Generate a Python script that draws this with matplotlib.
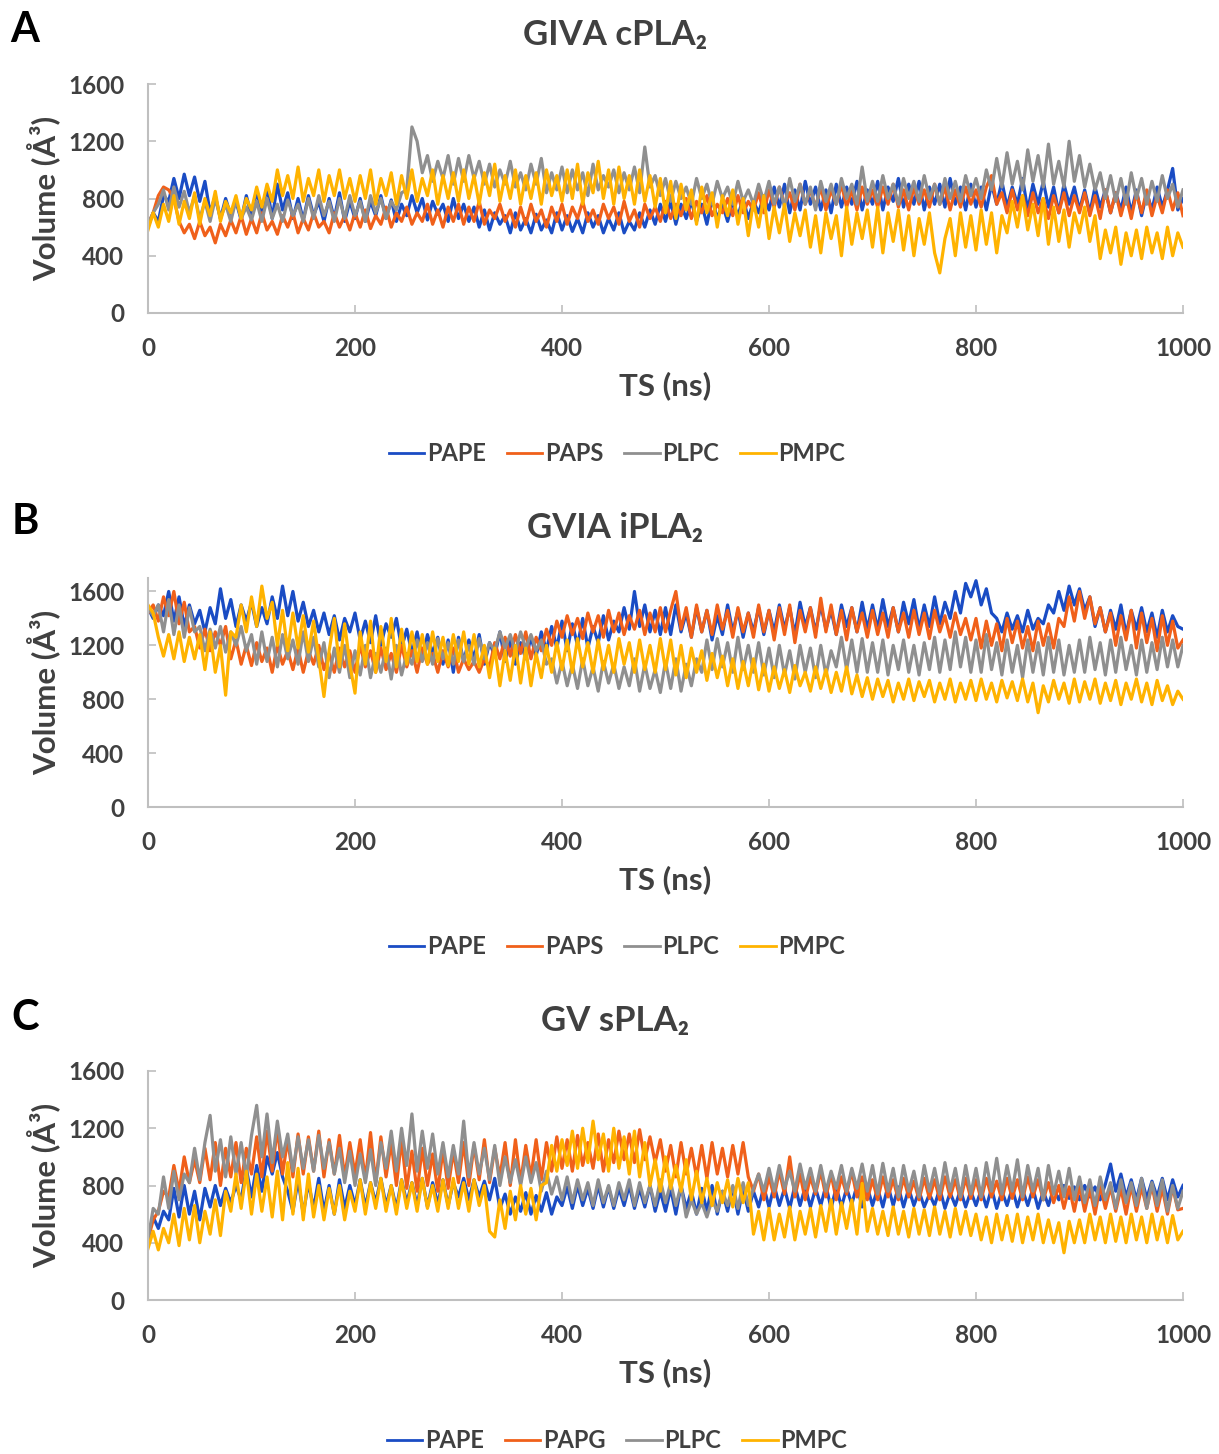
import numpy as np
import matplotlib
matplotlib.use("Agg")
import matplotlib.pyplot as plt

# Volume traces, one value every 5 ns (0..1000 ns)
a_pape = [600, 700, 640, 820, 780, 940, 800, 970, 820, 950, 780, 920, 700, 820, 660, 800, 680, 780, 650, 820,
          680, 850, 700, 880, 660, 900, 720, 840, 660, 800, 650, 820, 680, 780, 640, 800, 660, 840, 640, 780,
          660, 800, 640, 780, 680, 820, 660, 790, 640, 760, 680, 820, 700, 800, 650, 780, 690, 760, 640, 800,
          660, 760, 640, 740, 600, 720, 580, 700, 620, 680, 560, 700, 580, 660, 560, 690, 580, 650, 560, 700,
          580, 680, 570, 660, 560, 700, 600, 680, 560, 660, 580, 700, 560, 640, 580, 700, 600, 720, 620, 760,
          640, 780, 620, 760, 660, 780, 640, 760, 620, 800, 660, 760, 640, 780, 680, 800, 660, 780, 700, 820,
          720, 880, 740, 900, 700, 860, 720, 920, 760, 880, 720, 860, 700, 900, 740, 880, 760, 920, 720, 860,
          760, 920, 720, 880, 780, 940, 740, 900, 760, 920, 720, 880, 760, 900, 740, 940, 760, 880, 720, 900,
          740, 880, 720, 900, 760, 920, 740, 880, 760, 940, 720, 900, 760, 920, 740, 880, 700, 900, 760, 880,
          720, 860, 700, 880, 740, 860, 700, 840, 720, 880, 700, 860, 680, 840, 720, 880, 740, 860, 1010, 720,
          800]
a_paps = [620, 700, 820, 880, 860, 800, 640, 560, 620, 520, 640, 540, 600, 490, 620, 540, 650, 560, 680, 550,
          660, 560, 700, 580, 640, 550, 680, 600, 700, 560, 660, 580, 700, 600, 640, 560, 700, 600, 680, 580,
          700, 600, 720, 590, 680, 620, 740, 600, 700, 640, 740, 620, 700, 640, 760, 620, 720, 600, 740, 640,
          760, 620, 740, 640, 780, 620, 720, 660, 760, 640, 720, 600, 740, 620, 760, 640, 720, 600, 740, 640,
          760, 620, 740, 660, 780, 640, 720, 620, 760, 660, 740, 620, 780, 640, 720, 600, 760, 660, 740, 640,
          780, 660, 760, 680, 800, 660, 780, 700, 820, 680, 760, 700, 800, 680, 820, 700, 780, 720, 840, 700,
          860, 740, 880, 760, 840, 720, 900, 760, 860, 740, 880, 720, 860, 760, 900, 740, 860, 720, 880, 760,
          860, 740, 880, 760, 900, 740, 860, 720, 880, 760, 860, 740, 900, 760, 880, 720, 860, 740, 880, 760,
          860, 740, 880, 960, 760, 840, 700, 860, 720, 820, 680, 840, 700, 800, 660, 820, 700, 840, 680, 820,
          700, 840, 680, 820, 660, 860, 700, 840, 680, 820, 660, 840, 700, 860, 680, 820, 700, 860, 720, 840,
          680]
a_plpc = [620, 700, 760, 860, 720, 880, 740, 850, 700, 820, 660, 780, 640, 800, 660, 760, 640, 790, 660, 740,
          650, 780, 640, 800, 660, 760, 640, 790, 680, 760, 640, 800, 660, 820, 680, 780, 640, 800, 660, 820,
          680, 780, 640, 820, 700, 800, 660, 780, 720, 840, 860, 1300, 1200, 980, 1100, 920, 1060, 940, 1100, 900,
          1080, 920, 1100, 940, 1060, 900, 1040, 880, 1000, 900, 1060, 880, 980, 860, 1040, 900, 1080, 840, 980, 860,
          1020, 840, 1000, 860, 980, 820, 1040, 860, 960, 880, 1000, 840, 980, 860, 1020, 840, 1160, 880, 960, 820,
          940, 780, 920, 800, 880, 760, 940, 800, 900, 760, 920, 800, 880, 760, 920, 780, 860, 760, 900, 780,
          920, 760, 880, 740, 940, 780, 900, 760, 880, 720, 920, 780, 900, 760, 940, 800, 900, 760, 1020, 780,
          920, 780, 960, 800, 900, 760, 940, 800, 920, 780, 960, 800, 900, 760, 940, 800, 920, 780, 960, 820,
          940, 800, 1000, 860, 1080, 880, 1120, 900, 1060, 860, 1140, 920, 1100, 880, 1180, 900, 1060, 880, 1200, 920,
          1100, 880, 1040, 860, 980, 800, 960, 780, 940, 760, 980, 800, 940, 760, 920, 780, 960, 800, 900, 740,
          860]
a_pmpc = [580, 700, 600, 760, 640, 820, 620, 780, 660, 840, 620, 800, 680, 850, 640, 780, 700, 820, 660, 800,
          720, 880, 740, 900, 780, 1000, 820, 960, 800, 1020, 780, 940, 820, 1000, 780, 960, 820, 1000, 800, 940,
          780, 960, 800, 1000, 760, 940, 820, 980, 760, 960, 800, 1000, 780, 940, 820, 1000, 760, 960, 800, 980,
          780, 1000, 800, 960, 760, 980, 820, 1040, 780, 960, 800, 1000, 760, 960, 800, 980, 760, 1000, 820, 960,
          780, 1000, 800, 1040, 760, 980, 840, 1060, 800, 1000, 760, 1020, 800, 960, 760, 1000, 780, 960, 740, 940,
          700, 920, 660, 900, 720, 860, 620, 880, 700, 840, 600, 820, 680, 860, 620, 800, 540, 780, 600, 820,
          520, 740, 560, 760, 500, 700, 540, 720, 460, 680, 420, 700, 520, 680, 400, 740, 480, 700, 520, 720,
          460, 740, 420, 700, 500, 720, 440, 680, 400, 660, 480, 700, 420, 280, 520, 660, 400, 700, 460, 680,
          440, 720, 480, 700, 420, 680, 560, 780, 600, 820, 580, 760, 540, 800, 480, 740, 500, 720, 460, 700,
          560, 740, 500, 680, 380, 580, 420, 600, 340, 560, 400, 580, 380, 600, 420, 560, 380, 600, 400, 560,
          460]

b_pape = [1480, 1400, 1500, 1420, 1600, 1380, 1560, 1340, 1500, 1360, 1460, 1300, 1480, 1360, 1620, 1400, 1540, 1340, 1500, 1380,
          1520, 1340, 1480, 1360, 1560, 1400, 1640, 1420, 1600, 1380, 1520, 1340, 1460, 1300, 1440, 1280, 1420, 1240, 1400, 1300,
          1440, 1240, 1380, 1220, 1420, 1200, 1360, 1260, 1400, 1180, 1320, 1140, 1300, 1100, 1280, 1140, 1260, 1060, 1240, 1000,
          1260, 1080, 1240, 1100, 1280, 1060, 1220, 1120, 1300, 1080, 1240, 1060, 1220, 1100, 1260, 1120, 1300, 1160, 1340, 1180,
          1380, 1160, 1360, 1200, 1400, 1180, 1340, 1220, 1420, 1240, 1380, 1300, 1480, 1320, 1600, 1340, 1500, 1300, 1460, 1280,
          1480, 1280, 1500, 1300, 1440, 1260, 1480, 1300, 1460, 1240, 1420, 1280, 1500, 1300, 1460, 1260, 1440, 1300, 1480, 1280,
          1460, 1300, 1500, 1320, 1480, 1280, 1520, 1340, 1480, 1300, 1500, 1320, 1460, 1280, 1500, 1340, 1480, 1300, 1520, 1320,
          1500, 1320, 1540, 1340, 1480, 1300, 1520, 1360, 1540, 1320, 1500, 1340, 1560, 1360, 1520, 1400, 1600, 1440, 1660, 1560,
          1680, 1500, 1620, 1440, 1400, 1300, 1440, 1320, 1420, 1300, 1460, 1320, 1400, 1360, 1500, 1440, 1600, 1460, 1640, 1500,
          1620, 1460, 1560, 1340, 1480, 1300, 1460, 1320, 1500, 1280, 1460, 1320, 1480, 1300, 1440, 1260, 1460, 1300, 1420, 1340,
          1320]
b_paps = [1440, 1500, 1380, 1560, 1420, 1600, 1360, 1520, 1300, 1340, 1180, 1320, 1160, 1300, 1200, 1340, 1100, 1240, 1060, 1200,
          1050, 1220, 1080, 1180, 1000, 1200, 1060, 1160, 1020, 1180, 1000, 1160, 1060, 1200, 1020, 1140, 1000, 1180, 1040, 1160,
          1000, 1200, 1040, 1160, 1000, 1180, 1020, 1140, 1000, 1200, 1040, 1160, 1000, 1180, 1060, 1140, 1000, 1160, 1040, 1180,
          1000, 1100, 1020, 1080, 1000, 1100, 1040, 1220, 1100, 1260, 1120, 1280, 1140, 1300, 1100, 1260, 1160, 1320, 1200, 1380,
          1260, 1420, 1280, 1400, 1250, 1440, 1300, 1420, 1260, 1460, 1300, 1440, 1280, 1420, 1320, 1460, 1280, 1440, 1300, 1480,
          1300, 1460, 1600, 1320, 1480, 1260, 1500, 1300, 1460, 1280, 1500, 1320, 1460, 1260, 1480, 1300, 1440, 1260, 1500, 1300,
          1460, 1240, 1480, 1280, 1500, 1220, 1460, 1300, 1480, 1260, 1550, 1300, 1500, 1280, 1460, 1240, 1480, 1300, 1440, 1260,
          1460, 1280, 1440, 1260, 1480, 1300, 1440, 1260, 1460, 1280, 1440, 1250, 1460, 1300, 1420, 1260, 1440, 1280, 1400, 1240,
          1400, 1180, 1380, 1200, 1360, 1160, 1400, 1220, 1380, 1180, 1340, 1160, 1380, 1200, 1360, 1180, 1400, 1340, 1560, 1380,
          1600, 1400, 1560, 1360, 1480, 1300, 1440, 1200, 1420, 1240, 1460, 1180, 1440, 1220, 1400, 1160, 1420, 1200, 1380, 1180,
          1240]
b_plpc = [1480, 1420, 1500, 1300, 1540, 1280, 1500, 1260, 1480, 1300, 1340, 1160, 1320, 1180, 1340, 1150, 1300, 1200, 1340, 1160,
          1280, 1060, 1300, 1080, 1260, 1040, 1280, 1100, 1240, 1060, 1300, 1080, 1260, 1040, 1220, 960, 1180, 1000, 1200, 960,
          1160, 980, 1200, 960, 1140, 1000, 1180, 950, 1200, 980, 1140, 1060, 1240, 1080, 1220, 1060, 1250, 1100, 1220, 1060,
          1240, 1080, 1200, 1060, 1250, 1100, 1220, 1160, 1300, 1180, 1280, 1150, 1300, 1180, 1280, 1160, 1240, 1060, 1100, 920,
          1080, 900, 1060, 880, 1100, 900, 1040, 860, 1080, 920, 1060, 880, 1040, 900, 1100, 860, 1060, 880, 1020, 850,
          1080, 880, 1100, 860, 1060, 900, 1100, 1000, 1240, 1020, 1250, 1040, 1220, 1000, 1260, 1020, 1200, 1000, 1220, 980,
          1180, 960, 1200, 980, 1160, 950, 1200, 1000, 1180, 960, 1200, 980, 1160, 1040, 1260, 1020, 1240, 1000, 1250, 1000,
          1220, 1000, 1240, 980, 1200, 1020, 1240, 1000, 1200, 980, 1220, 1020, 1260, 1000, 1240, 1020, 1300, 1040, 1260, 1000,
          1240, 1000, 1280, 1020, 1220, 980, 1240, 1000, 1200, 960, 1240, 1000, 1220, 980, 1260, 1000, 1240, 980, 1200, 1000,
          1240, 1000, 1260, 1020, 1220, 980, 1240, 1000, 1260, 1020, 1200, 980, 1240, 1000, 1220, 1020, 1260, 1040, 1240, 1040,
          1200]
b_pmpc = [1500, 1440, 1260, 1120, 1280, 1100, 1300, 1080, 1260, 1100, 1280, 1020, 1300, 1000, 1200, 830, 1300, 1260, 1500, 1300,
          1560, 1340, 1640, 1400, 1520, 1200, 1460, 1160, 1440, 1180, 1420, 1150, 1380, 1100, 820, 1160, 1400, 1040, 1360, 1060,
          845, 1300, 1060, 1380, 1000, 1340, 1080, 1400, 1040, 1320, 1060, 1300, 1080, 1280, 1060, 1300, 1080, 1260, 1050, 1280,
          1080, 1300, 1060, 1280, 1040, 1200, 960, 1180, 900, 1160, 940, 1200, 920, 1180, 900, 1140, 960, 1200, 1000, 1220,
          1020, 1240, 1000, 1250, 1040, 1220, 1000, 1240, 1020, 1200, 1000, 1250, 1060, 1220, 1000, 1240, 1020, 1200, 1000, 1250,
          1020, 1240, 980, 1200, 960, 1180, 1000, 1160, 940, 1140, 960, 1120, 900, 1100, 880, 1080, 900, 1100, 870, 1060,
          860, 1040, 880, 1020, 850, 1050, 900, 1000, 860, 1040, 880, 1020, 850, 1000, 860, 1040, 840, 980, 820, 960,
          800, 950, 820, 940, 780, 920, 800, 950, 790, 930, 820, 940, 780, 920, 800, 950, 780, 920, 800, 940,
          790, 950, 800, 920, 780, 940, 810, 930, 790, 950, 780, 920, 700, 900, 780, 940, 800, 920, 770, 950,
          780, 930, 800, 950, 770, 920, 790, 940, 760, 920, 800, 950, 780, 920, 760, 940, 790, 900, 760, 860,
          800]

c_pape = [450, 580, 500, 620, 560, 780, 580, 800, 600, 760, 560, 780, 650, 800, 660, 780, 680, 800, 700, 920,
          720, 940, 760, 1000, 880, 1030, 860, 760, 620, 840, 600, 820, 640, 850, 620, 800, 600, 840, 640, 800,
          660, 840, 650, 820, 680, 850, 660, 800, 640, 840, 680, 820, 660, 850, 650, 820, 670, 840, 660, 820,
          720, 850, 700, 840, 720, 830, 700, 850, 640, 740, 600, 720, 620, 750, 600, 730, 620, 750, 600, 720,
          660, 790, 640, 800, 660, 780, 640, 800, 650, 790, 640, 780, 660, 800, 640, 780, 650, 800, 620, 760,
          620, 780, 600, 800, 640, 760, 600, 780, 620, 800, 600, 760, 620, 790, 600, 780, 620, 760, 650, 790,
          650, 800, 660, 780, 640, 800, 660, 790, 650, 780, 660, 800, 640, 790, 650, 780, 670, 800, 650, 790,
          660, 780, 650, 800, 660, 790, 650, 780, 660, 760, 650, 740, 660, 780, 640, 750, 660, 770, 650, 760,
          660, 770, 650, 780, 640, 760, 660, 780, 650, 770, 660, 780, 640, 760, 660, 780, 700, 800, 710, 790,
          700, 800, 720, 790, 700, 810, 950, 760, 880, 720, 840, 700, 850, 710, 830, 720, 850, 700, 840, 720,
          800]
c_papg = [420, 560, 620, 760, 720, 940, 760, 1000, 820, 980, 820, 1060, 840, 1100, 800, 1060, 860, 1100, 820, 1060,
          880, 1140, 860, 1180, 900, 1200, 880, 1120, 860, 1160, 880, 1140, 900, 1180, 860, 1120, 880, 1150, 860, 1100,
          880, 1120, 840, 1170, 820, 1140, 860, 1100, 800, 1120, 780, 1040, 760, 1060, 800, 1020, 760, 1050, 780, 1040,
          820, 1100, 800, 1080, 840, 1120, 820, 1060, 860, 1100, 800, 1120, 820, 1080, 860, 1120, 840, 1100, 900, 1140,
          920, 1120, 900, 1150, 940, 1100, 920, 1160, 900, 1120, 960, 1180, 980, 1160, 960, 1190, 980, 1140, 960, 1120,
          900, 1080, 860, 1100, 880, 1060, 860, 1080, 850, 1100, 880, 1060, 860, 1080, 880, 1100, 860, 760, 880, 700,
          860, 720, 900, 740, 1000, 720, 880, 700, 860, 740, 900, 720, 880, 700, 860, 740, 900, 720, 860, 700,
          840, 700, 860, 720, 840, 700, 850, 720, 830, 700, 850, 710, 840, 700, 860, 720, 840, 700, 850, 710,
          840, 700, 850, 720, 830, 700, 850, 710, 840, 700, 860, 720, 840, 700, 820, 680, 800, 640, 790, 620,
          800, 620, 780, 600, 800, 640, 790, 620, 780, 600, 800, 620, 790, 640, 800, 620, 780, 600, 790, 630,
          640]
c_plpc = [420, 640, 600, 860, 640, 900, 700, 880, 820, 1060, 840, 1100, 1290, 900, 1120, 860, 1140, 880, 1100, 860,
          1150, 1360, 1000, 1300, 960, 1250, 1000, 1160, 900, 1140, 920, 1120, 900, 1150, 920, 1100, 880, 1060, 820, 1040,
          800, 1020, 820, 1050, 800, 1100, 920, 1180, 900, 1200, 940, 1300, 900, 1180, 920, 1160, 880, 1100, 860, 1080,
          880, 1250, 860, 1100, 880, 1060, 840, 1080, 800, 1000, 820, 980, 800, 1000, 820, 960, 760, 900, 740, 860,
          700, 860, 680, 840, 700, 820, 660, 840, 680, 800, 660, 820, 700, 840, 660, 820, 680, 800, 660, 840,
          680, 820, 660, 800, 580, 700, 600, 680, 580, 700, 620, 760, 660, 800, 640, 820, 660, 780, 880, 760,
          920, 760, 940, 780, 900, 760, 950, 780, 920, 760, 940, 760, 900, 780, 940, 760, 920, 780, 950, 760,
          940, 740, 955, 760, 920, 720, 940, 760, 900, 720, 940, 760, 920, 740, 960, 760, 920, 720, 940, 740,
          920, 720, 960, 760, 990, 740, 940, 760, 980, 720, 940, 760, 920, 700, 940, 740, 900, 720, 920, 700,
          860, 680, 840, 660, 860, 700, 820, 640, 840, 680, 820, 660, 850, 640, 820, 660, 840, 620, 800, 640,
          760]
c_pmpc = [360, 480, 350, 500, 400, 600, 380, 640, 420, 660, 400, 620, 460, 700, 450, 760, 620, 880, 640, 900,
          600, 880, 620, 860, 580, 900, 560, 960, 600, 920, 560, 880, 580, 800, 560, 780, 600, 800, 560, 760,
          620, 840, 600, 820, 640, 850, 620, 800, 600, 840, 640, 820, 620, 850, 640, 800, 620, 840, 640, 850,
          640, 820, 620, 840, 660, 800, 480, 440, 700, 500, 760, 560, 800, 600, 780, 560, 800, 820, 1080, 900,
          1120, 940, 1180, 920, 1200, 960, 1250, 980, 1160, 900, 1200, 920, 1140, 880, 1180, 860, 1100, 800, 980, 760,
          1000, 780, 940, 760, 980, 700, 900, 680, 850, 660, 820, 680, 840, 650, 850, 680, 820, 460, 620, 420,
          640, 420, 600, 440, 650, 420, 620, 460, 640, 440, 660, 480, 700, 460, 680, 500, 700, 460, 815, 480,
          640, 460, 620, 450, 650, 460, 620, 440, 640, 460, 630, 450, 650, 460, 620, 440, 640, 460, 620, 450,
          600, 420, 580, 400, 600, 420, 590, 410, 600, 400, 580, 420, 600, 400, 560, 400, 540, 330, 550, 400,
          560, 400, 600, 420, 580, 400, 600, 410, 580, 400, 600, 420, 580, 400, 600, 420, 580, 400, 590, 420,
          480]

panel_letters = ["A", "B", "C"]
panel_titles = ["GIVA cPLA\u2082", "GVIA iPLA\u2082", "GV sPLA\u2082"]
panel_series = [
    (["PAPE", "PAPS", "PLPC", "PMPC"], [a_pape, a_paps, a_plpc, a_pmpc]),
    (["PAPE", "PAPS", "PLPC", "PMPC"], [b_pape, b_paps, b_plpc, b_pmpc]),
    (["PAPE", "PAPG", "PLPC", "PMPC"], [c_pape, c_papg, c_plpc, c_pmpc]),
]
panel_ymax = [1600, 1700, 1600]
x_ticks = [0, 200, 400, 600, 800, 1000]
y_ticks = [0, 400, 800, 1200, 1600]

colors = ["#1a4cc4", "#f0601a", "#8f8f8f", "#ffb300"]
text_color = "#404040"
axis_color = "#bfbfbf"

plt.rcParams["font.family"] = ["Lato", "DejaVu Sans"]
plt.rcParams["font.weight"] = "bold"

W, H = 1219, 1454
fig = plt.figure(figsize=(W / 100, H / 100), dpi=100)

# pixel layout of each panel: (axes top, axes bottom) in figure pixels
axes_px = [(84, 313), (578, 807), (1071, 1300)]
title_y = [35, 528, 1021]
letter_y = [30, 522, 1018]
legend_y = [454, 947, 1441]
left_px, right_px = 148, 1183

for i in range(3):
    top, bottom = axes_px[i]
    ax = fig.add_axes([left_px / W, 1 - bottom / H, (right_px - left_px) / W, (bottom - top) / H])
    names, series = panel_series[i]
    for name, vals, col in zip(names, series, colors):
        x = np.linspace(0, 1000, len(vals))
        ax.plot(x, vals, color=col, linewidth=2.3, label=name)

    # Axis formatting
    ax.set_xlim(0, 1000)
    ax.set_ylim(0, panel_ymax[i])
    ax.set_xticks(x_ticks)
    ax.set_yticks(y_ticks)
    for s in ["top", "right"]:
        ax.spines[s].set_visible(False)
    for s in ["left", "bottom"]:
        ax.spines[s].set_color(axis_color)
        ax.spines[s].set_linewidth(1.5)
    ax.tick_params(direction="in", length=6, width=1.2, color=axis_color,
                   labelsize=17.5, labelcolor=text_color, pad=17)
    ax.set_xlabel("TS (ns)", fontsize=22.5, color=text_color, fontweight="bold", labelpad=8)
    ax.set_ylabel("Volume (\u00c5\u00b3)", fontsize=22.5, color=text_color, fontweight="bold", labelpad=6)

    fig.text(615 / W, 1 - title_y[i] / H, panel_titles[i], ha="center", va="center",
             fontsize=25, fontweight="bold", color=text_color)
    fig.text(25 / W, 1 - letter_y[i] / H, panel_letters[i], ha="center", va="center",
             fontsize=30, fontweight="bold", color="black")

    leg = fig.legend(*ax.get_legend_handles_labels(), loc="center", ncol=4, frameon=False,
                     bbox_to_anchor=(617 / W, 1 - legend_y[i] / H), fontsize=17,
                     handlelength=1.5, handletextpad=0.1, columnspacing=0.9)
    for h in leg.legend_handles:
        h.set_linewidth(2)
    for t in leg.get_texts():
        t.set_color(text_color)

plt.savefig("out.png", dpi=100)
